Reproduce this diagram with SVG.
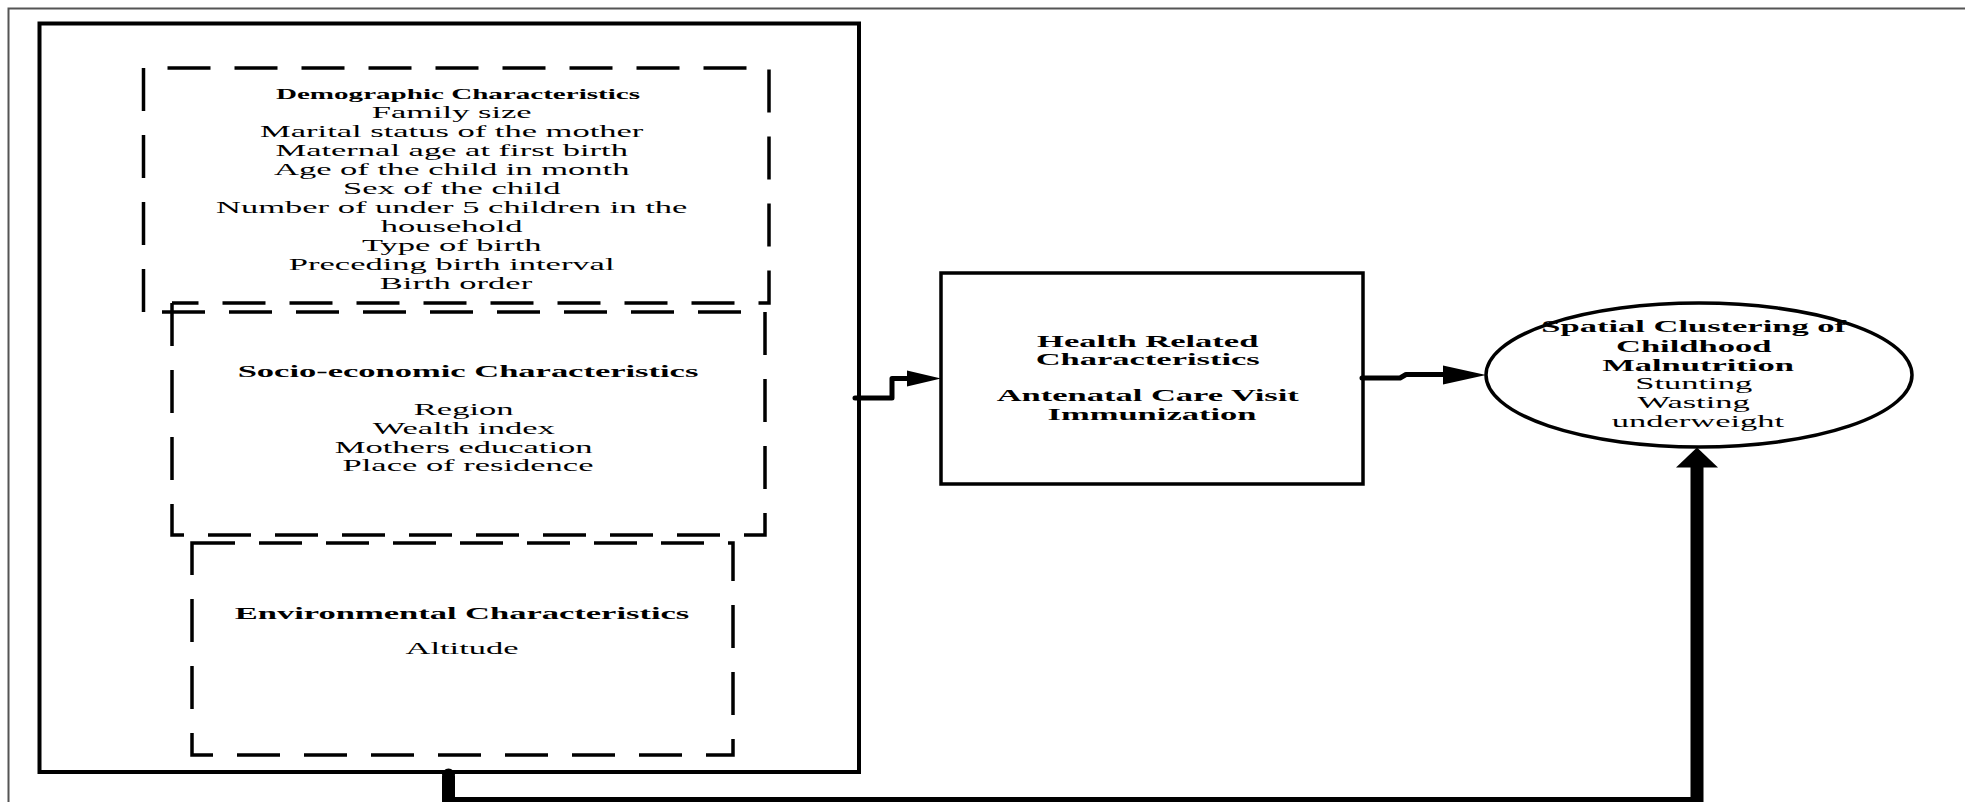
<svg xmlns="http://www.w3.org/2000/svg" width="1965" height="802" viewBox="0 0 1965 802">
<style>
.frame{fill:none;stroke:#555;stroke-width:2}
.solid{fill:#fff;stroke:#000;stroke-width:4}
.dash{fill:none;stroke:#000;stroke-width:3.5;stroke-dasharray:43 24}
.t{font-family:"Liberation Serif","Times New Roman",serif;font-size:17px;fill:#000;text-anchor:middle}
.b{font-weight:bold}
.line{fill:none;stroke:#000;stroke-width:5;stroke-linejoin:round;stroke-linecap:round}
.thick{fill:none;stroke:#000;stroke-width:13;stroke-linejoin:miter}
.head{fill:#000;stroke:none}
</style>
<rect width="1965" height="802" fill="#fff"/>
<rect class="frame" x="8.5" y="8.5" width="2000" height="850"/>

<g id="main-box">
<rect class="solid" x="39.5" y="23.5" width="819.5" height="748.5"/>
</g>

<g id="demographic">
<path class="dash" d="M143.5,312 V68 H769 V303 H172"/>
<g transform="translate(458,0) scale(1.94,1)">
<text class="t b" style="font-size:15px" x="0" y="99">Demographic Characteristics</text>
</g>
<g transform="translate(456,0) scale(2.03,1)">
<text class="t">
<tspan x="0" y="118">Family size</tspan>
<tspan x="0" y="137">Marital status of the mother</tspan>
<tspan x="0" y="156">Maternal age at first birth</tspan>
<tspan x="0" y="175">Age of the child in month</tspan>
<tspan x="0" y="194">Sex of the child</tspan>
<tspan x="0" y="213">Number of under 5 children in the</tspan>
<tspan x="0" y="232">household</tspan>
<tspan x="0" y="251">Type of birth</tspan>
<tspan x="0" y="270">Preceding birth interval</tspan>
<tspan x="0" y="289">Birth order</tspan>
</text>
</g>
</g>

<g id="socio-economic">
<path class="dash" d="M172,303 V535 H765 V312 H143.5"/>
<g transform="translate(468,0) scale(2.03,1)">
<text class="t b" x="0" y="377">Socio-economic Characteristics</text>
<text class="t">
<tspan x="0" y="415">Region</tspan>
<tspan x="0" y="434">Wealth index</tspan>
<tspan x="0" y="453">Mothers education</tspan>
<tspan x="0" y="471">Place of residence</tspan>
</text>
</g>
</g>

<g id="environmental">
<rect class="dash" x="192" y="543" width="541" height="212"/>
<g transform="translate(462,0) scale(2.03,1)">
<text class="t b" x="0" y="619">Environmental Characteristics</text>
<text class="t" x="0" y="654">Altitude</text>
</g>
</g>

<g id="health">
<rect class="solid" x="941" y="273" width="422" height="211" style="stroke-width:3.5"/>
<g transform="translate(1152,0) scale(2.03,1)">
<text class="t b">
<tspan x="0" y="347">Health Related</tspan>
<tspan x="0" y="365">Characteristics</tspan>
<tspan x="0" y="401">Antenatal Care Visit</tspan>
<tspan x="0" y="420">Immunization</tspan>
</text>
</g>
</g>

<g id="malnutrition">
<ellipse cx="1699" cy="375" rx="213" ry="72" fill="#fff" stroke="#000" stroke-width="3.5"/>
<g transform="translate(1698,0) scale(2.03,1)">
<text class="t b">
<tspan x="0" y="332">Spatial Clustering of</tspan>
<tspan x="0" y="352">Childhood</tspan>
<tspan x="0" y="371">Malnutrition</tspan>
</text>
<text class="t">
<tspan x="0" y="389">Stunting</tspan>
<tspan x="0" y="408">Wasting</tspan>
<tspan x="0" y="427">underweight</tspan>
</text>
</g>
</g>

<g id="connectors">
<path class="line" d="M855,398 H892 V378.5 H910"/>
<polygon class="head" points="907,370.5 941,378.5 907,386.5"/>
<path class="line" d="M1362,378 H1400 L1406,374.5 H1446"/>
<polygon class="head" points="1443,365.5 1486,375 1443,384.5"/>
<path class="thick" d="M448.5,776 V803.5 H1697 V465"/>
<circle cx="448.5" cy="775" r="6.5" fill="#000"/>
<polygon class="head" points="1676,467.5 1697,447.5 1718,467.5"/>
</g>
</svg>
